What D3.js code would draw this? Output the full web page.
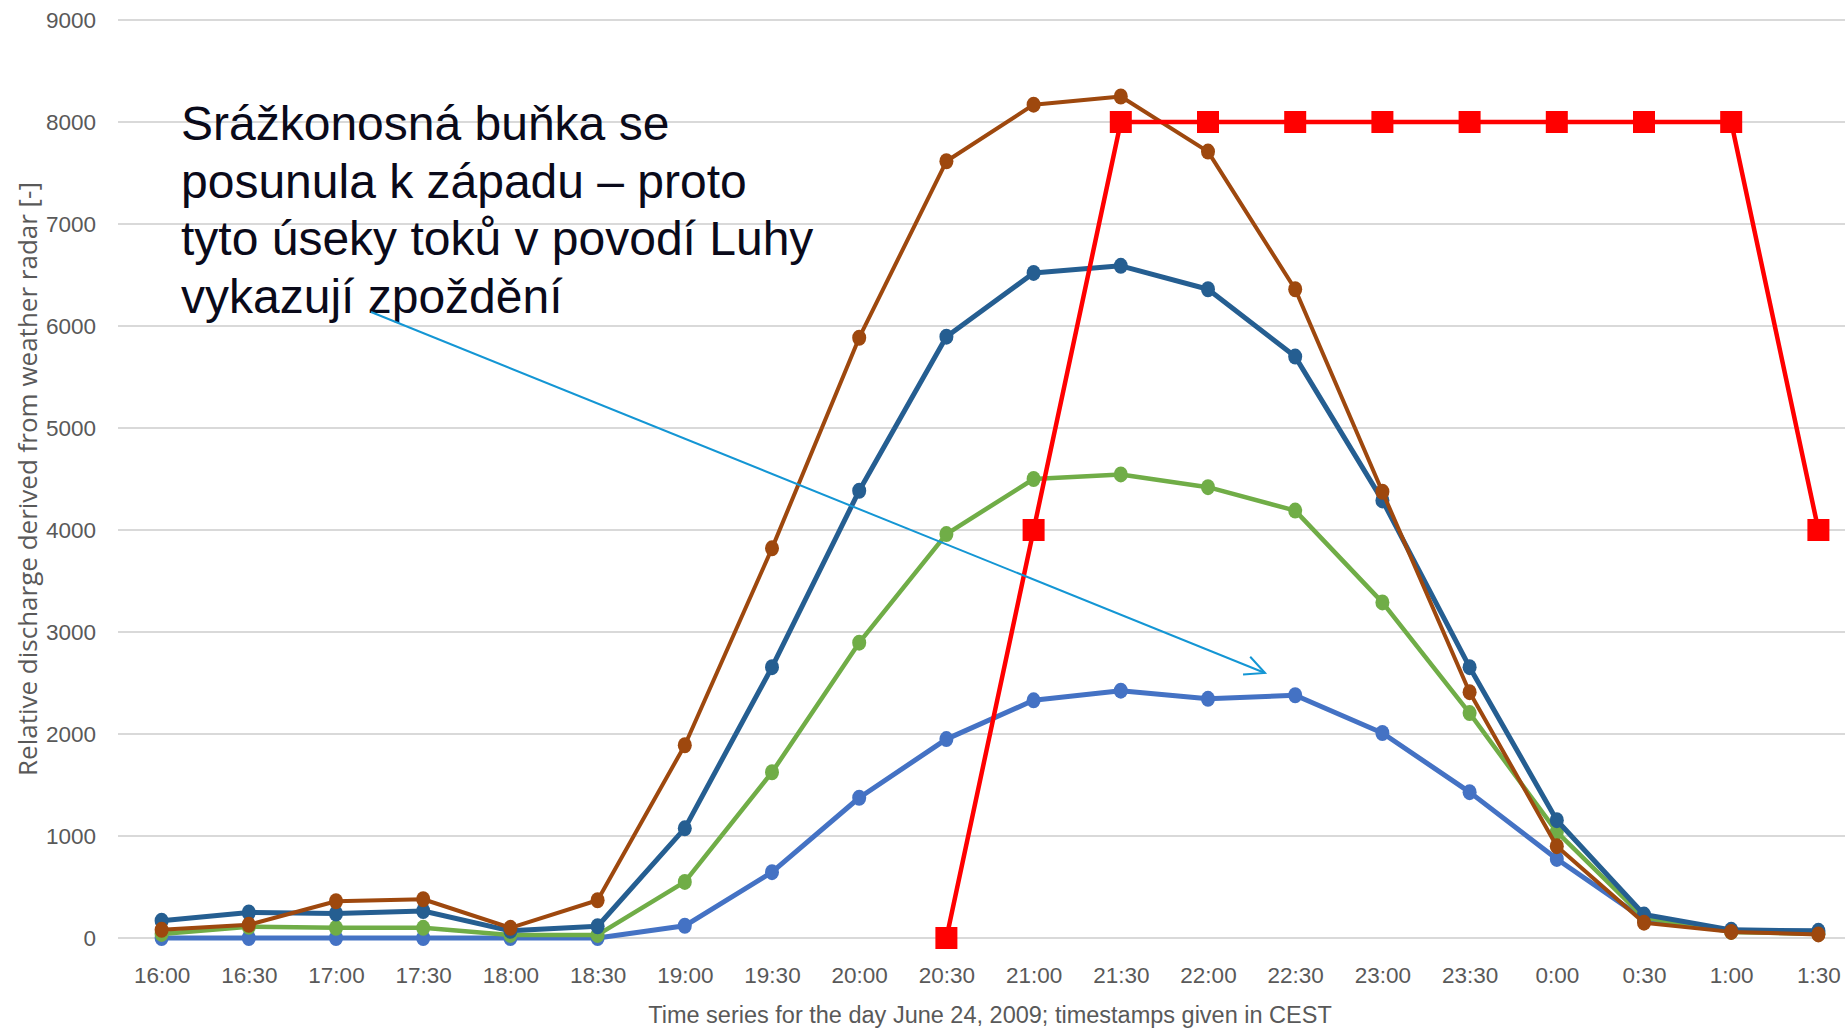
<!DOCTYPE html>
<html>
<head>
<meta charset="utf-8">
<script src="https://cdn.jsdelivr.net/npm/d3@7"></script>
<style>
  body { margin: 0; background: #fff; }
  svg { display: block; }
</style>
</head>
<body>
<div id="chart"></div>
<script>
var width = 1845,
    height = 1032;

var times = ['16:00', '16:30', '17:00', '17:30', '18:00', '18:30', '19:00', '19:30', '20:00', '20:30',
    '21:00', '21:30', '22:00', '22:30', '23:00', '23:30', '0:00', '0:30', '1:00', '1:30'];

var lightBlue = [0, 0, 0, 0, 0, 0, 120, 645, 1375, 1950, 2330, 2425, 2345, 2380, 2010, 1430, 775, 185, 70, 50];
var green = [40, 110, 100, 100, 30, 30, 550, 1625, 2895, 3960, 4500, 4545, 4420, 4190, 3290, 2205, 1040, 200, 60, 40];
var darkBlue = [170, 250, 240, 265, 70, 115, 1075, 2655, 4385, 5895, 6520, 6590, 6360, 5700, 4290, 2655, 1155, 230, 80, 70];
var brown = [80, 130, 360, 380, 100, 370, 1890, 3820, 5885, 7615, 8170, 8250, 7710, 6360, 4375, 2410, 900, 150, 60, 35];
var red = [null, null, null, null, null, null, null, null, null, 0, 4000, 8000, 8000, 8000, 8000, 8000, 8000, 8000, 8000, 4000];

var yTicks = [0, 1000, 2000, 3000, 4000, 5000, 6000, 7000, 8000, 9000];

var noteLines = ['Srážkonosná buňka se', 'posunula k západu – proto', 'tyto úseky toků v povodí Luhy', 'vykazují zpoždění'];

var svg = d3.select('#chart').append('svg')
    .attr('width', width)
    .attr('height', height);

var x = d3.scalePoint()
    .domain(times)
    .range([118, 1862])
    .padding(0.5);

var y = d3.scaleLinear()
    .domain([0, 9000])
    .range([938, 20]);

var tickFont = '"Liberation Sans", Arial, sans-serif';

// gridlines + y labels
var yAxis = svg.append('g')
    .attr('transform', 'translate(118,0)')
    .call(d3.axisLeft(y).tickValues(yTicks).tickFormat(d3.format('d')).tickSize(0).tickPadding(22));
yAxis.select('.domain').remove();
yAxis.selectAll('text')
    .attr('fill', '#595959')
    .style('font-family', tickFont)
    .style('font-size', '22.5px');

svg.append('g').selectAll('line')
    .data(yTicks)
    .enter()
    .append('line')
    .attr('x1', 118)
    .attr('x2', width)
    .attr('y1', function(d) { return y(d); })
    .attr('y2', function(d) { return y(d); })
    .attr('stroke', '#d9d9d9')
    .attr('stroke-width', 2);

var xAxis = svg.append('g')
    .attr('transform', 'translate(0,938)')
    .call(d3.axisBottom(x).tickSize(0).tickPadding(29));
xAxis.select('.domain').remove();
xAxis.selectAll('text')
    .attr('fill', '#595959')
    .style('font-family', tickFont)
    .style('font-size', '22.5px');

svg.append('text')
    .attr('x', 990)
    .attr('y', 1023)
    .attr('text-anchor', 'middle')
    .attr('fill', '#595959')
    .style('font-family', tickFont)
    .style('font-size', '23.5px')
    .text('Time series for the day June 24, 2009; timestamps given in CEST');

svg.append('text')
    .attr('transform', 'translate(37,479) rotate(-90)')
    .attr('text-anchor', 'middle')
    .attr('fill', '#595959')
    .style('font-family', '"Open Sans", "DejaVu Sans", sans-serif')
    .style('font-size', '26px')
    .text('Relative discharge derived from weather radar [-]');

var series = [
    { values: lightBlue, color: '#4472c4', width: 5 },
    { values: green, color: '#70ad47', width: 4.5 },
    { values: darkBlue, color: '#255e91', width: 5 },
    { values: brown, color: '#9e480e', width: 4 }
];

var line = d3.line()
    .defined(function(d) { return d != null; })
    .x(function(d, i) { return x(times[i]); })
    .y(function(d) { return y(d); });

series.forEach(function(s) {
    var g = svg.append('g');
    g.append('path')
        .datum(s.values)
        .attr('d', line)
        .attr('fill', 'none')
        .attr('stroke', s.color)
        .attr('stroke-width', s.width)
        .attr('stroke-linejoin', 'round');
    g.selectAll('ellipse')
        .data(s.values)
        .enter()
        .append('ellipse')
        .attr('cx', function(d, i) { return x(times[i]); })
        .attr('cy', function(d) { return y(d); })
        .attr('rx', 7)
        .attr('ry', 8)
        .attr('fill', s.color);
});

var redG = svg.append('g');
redG.append('path')
    .datum(red)
    .attr('d', line)
    .attr('fill', 'none')
    .attr('stroke', '#ff0000')
    .attr('stroke-width', 4.5);
var sq = 22;
redG.selectAll('rect')
    .data(red.map(function(v, i) { return { v: v, t: times[i] }; }).filter(function(d) { return d.v != null; }))
    .enter()
    .append('rect')
    .attr('x', function(d) { return x(d.t) - sq / 2; })
    .attr('y', function(d) { return y(d.v) - sq / 2; })
    .attr('width', sq)
    .attr('height', sq)
    .attr('fill', '#ff0000');

// annotation
var note = svg.append('text')
    .attr('fill', '#0a0a1a')
    .style('font-family', '"Liberation Sans", Arial, sans-serif')
    .style('font-size', '48px');
note.selectAll('tspan')
    .data(noteLines)
    .enter()
    .append('tspan')
    .attr('x', 181)
    .attr('y', function(d, i) { return 140 + i * 57.7; })
    .text(function(d) { return d; });

// arrow
var ax1 = 371, ay1 = 312, ax2 = 1265, ay2 = 673;
var ang = Math.atan2(ay2 - ay1, ax2 - ax1);
var hl = 22, ha = 0.45;
svg.append('line')
    .attr('x1', ax1).attr('y1', ay1)
    .attr('x2', ax2).attr('y2', ay2)
    .attr('stroke', '#1496d4')
    .attr('stroke-width', 2);
svg.append('path')
    .attr('d', 'M' + (ax2 - hl * Math.cos(ang - ha)) + ',' + (ay2 - hl * Math.sin(ang - ha)) +
        'L' + ax2 + ',' + ay2 +
        'L' + (ax2 - hl * Math.cos(ang + ha)) + ',' + (ay2 - hl * Math.sin(ang + ha)))
    .attr('fill', 'none')
    .attr('stroke', '#1496d4')
    .attr('stroke-width', 2);
</script>
</body>
</html>
